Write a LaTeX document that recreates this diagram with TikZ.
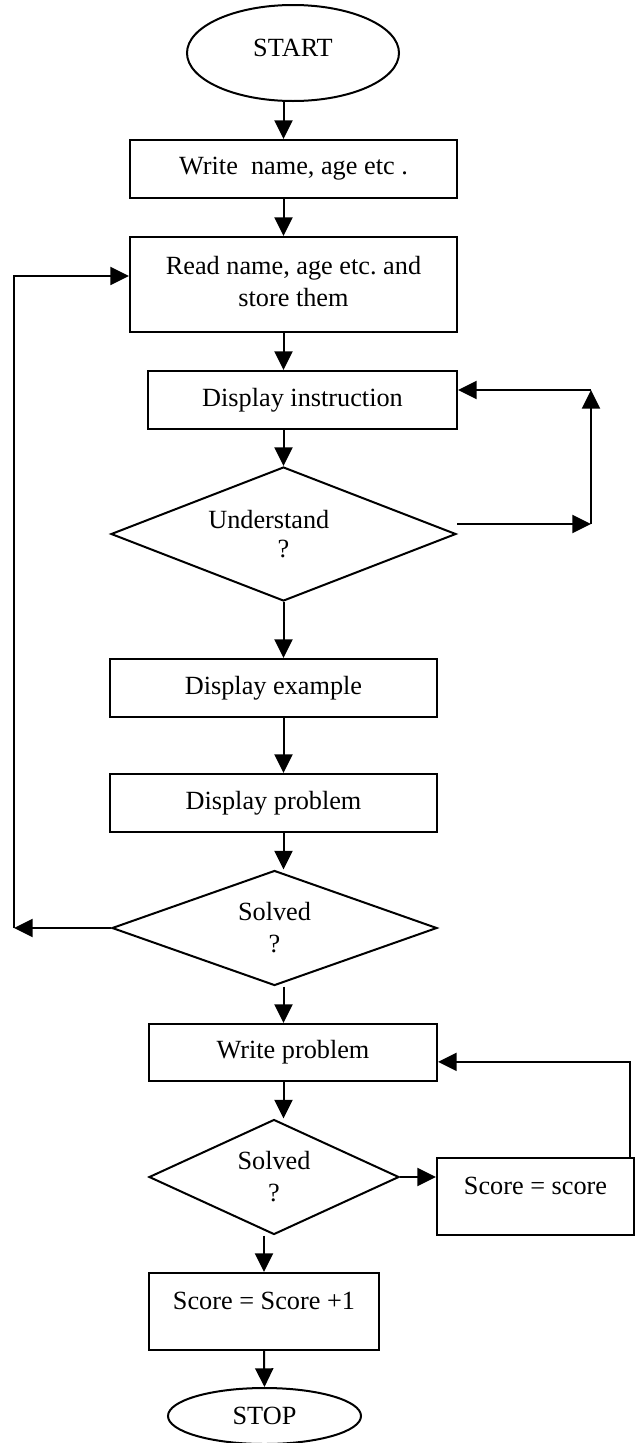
\documentclass[tikz,border=0pt]{standalone}
\usepackage{fontspec}
\setmainfont{Liberation Serif}
\usetikzlibrary{shapes.geometric,arrows.meta}
\begin{document}
\begin{tikzpicture}[x=0.75pt, y=-0.75pt, line width=1.5pt, line join=miter,
 >={Triangle[length=14pt,width=13.5pt]}, font=\fontsize{19.7}{24}\selectfont,
 term/.style={draw, ellipse, inner sep=0pt},
 box/.style={draw, rectangle, inner sep=0pt},
 topbox/.style={box, text height=14pt, text depth=17pt},
 ask/.style={draw, diamond, inner sep=0pt, align=center}]
 \useasboundingbox (0,0) rectangle (639,1443);
 \coordinate (spine) at (283.5,0);
 % main column
 \node[term, minimum width=159pt, minimum height=72pt, text depth=8pt] (start) at (293,53) {START};
 \node[box, minimum width=245.25pt, minimum height=43.5pt] (write) at (293.5,169) {Write\ \ name, age etc .};
 \node[box, align=center, minimum width=245.25pt, minimum height=71.25pt] (read) at (293.5,284.5) {Read name, age etc.\ and\\store them\vphantom{y}};
 \node[box, minimum width=231.75pt, minimum height=43.5pt] (instr) at (302.5,400) {Display instruction};
 \node[ask, shape aspect=2.57, minimum width=258.75pt, minimum height=100.5pt] (und) at (283.5,534) {Understand\hspace*{22pt}\\[-2pt]?};
 \node[box, minimum width=245.25pt, minimum height=43.5pt] (example) at (273.5,688) {Display example};
 \node[box, minimum width=245.25pt, minimum height=43.5pt] (problem) at (273.5,803) {Display problem};
 \node[ask, shape aspect=2.83, minimum width=243.75pt, minimum height=86.25pt] (solvedA) at (274.5,928) {Solved\\?};
 \node[box, minimum width=216pt, minimum height=42.75pt] (writeprob) at (293,1052.5) {Write problem};
 \node[ask, shape aspect=2.17, minimum width=187.5pt, minimum height=86.25pt] (solvedB) at (274,1177) {Solved\\?};
 \node[topbox, minimum width=147.75pt, minimum height=57.75pt] (score) at (535.5,1196.5) {Score = score};
 \node[topbox, minimum width=172.5pt, minimum height=57.75pt] (plusone) at (264,1311.5) {Score = Score +1};
 \node[term, minimum width=144.75pt, minimum height=42pt] (stop) at (264.5,1416) {STOP};
 % loop corners
 \coordinate (ur) at (591,524);
 \coordinate (ul) at (591,390);
 \coordinate (ll) at (14,928);
 % connectors
 \draw[->] (start.south -| spine) -- (write.north -| spine);
 \draw[->] (write.south -| spine) -- (read.north -| spine);
 \draw[->] (read.south -| spine) -- (instr.north -| spine);
 \draw[->] (instr.south -| spine) -- (und.north);
 \draw[->] (und.south) -- (example.north -| spine);
 \draw[->] (example.south -| spine) -- (problem.north -| spine);
 \draw[->] (problem.south -| spine) -- (solvedA.north -| spine);
 \draw[->] (solvedA.south -| spine) -- (writeprob.north -| spine);
 \draw[->] (writeprob.south -| spine) -- (solvedB.north -| spine);
 \draw[->] (solvedB.south -| plusone) -- (plusone.north);
 \draw[->] (plusone.south) -- (stop.north);
 \draw[->] (solvedB.east) -- (solvedB.east -| score.west);
 \draw[->] ([xshift=-3.75pt]score.north east) |- ([yshift=-7pt]writeprob.east);
 \draw[->] ([yshift=7.5pt]und.east) -- (ur);
 \draw[->] (ur) -- (ul);
 \draw[->] (ul) -- (ul -| instr.east);
 \draw[->] (solvedA.west) -- (ll);
 \draw[->] (ll) |- ([yshift=6.4pt]read.west);
\end{tikzpicture}
\end{document}
